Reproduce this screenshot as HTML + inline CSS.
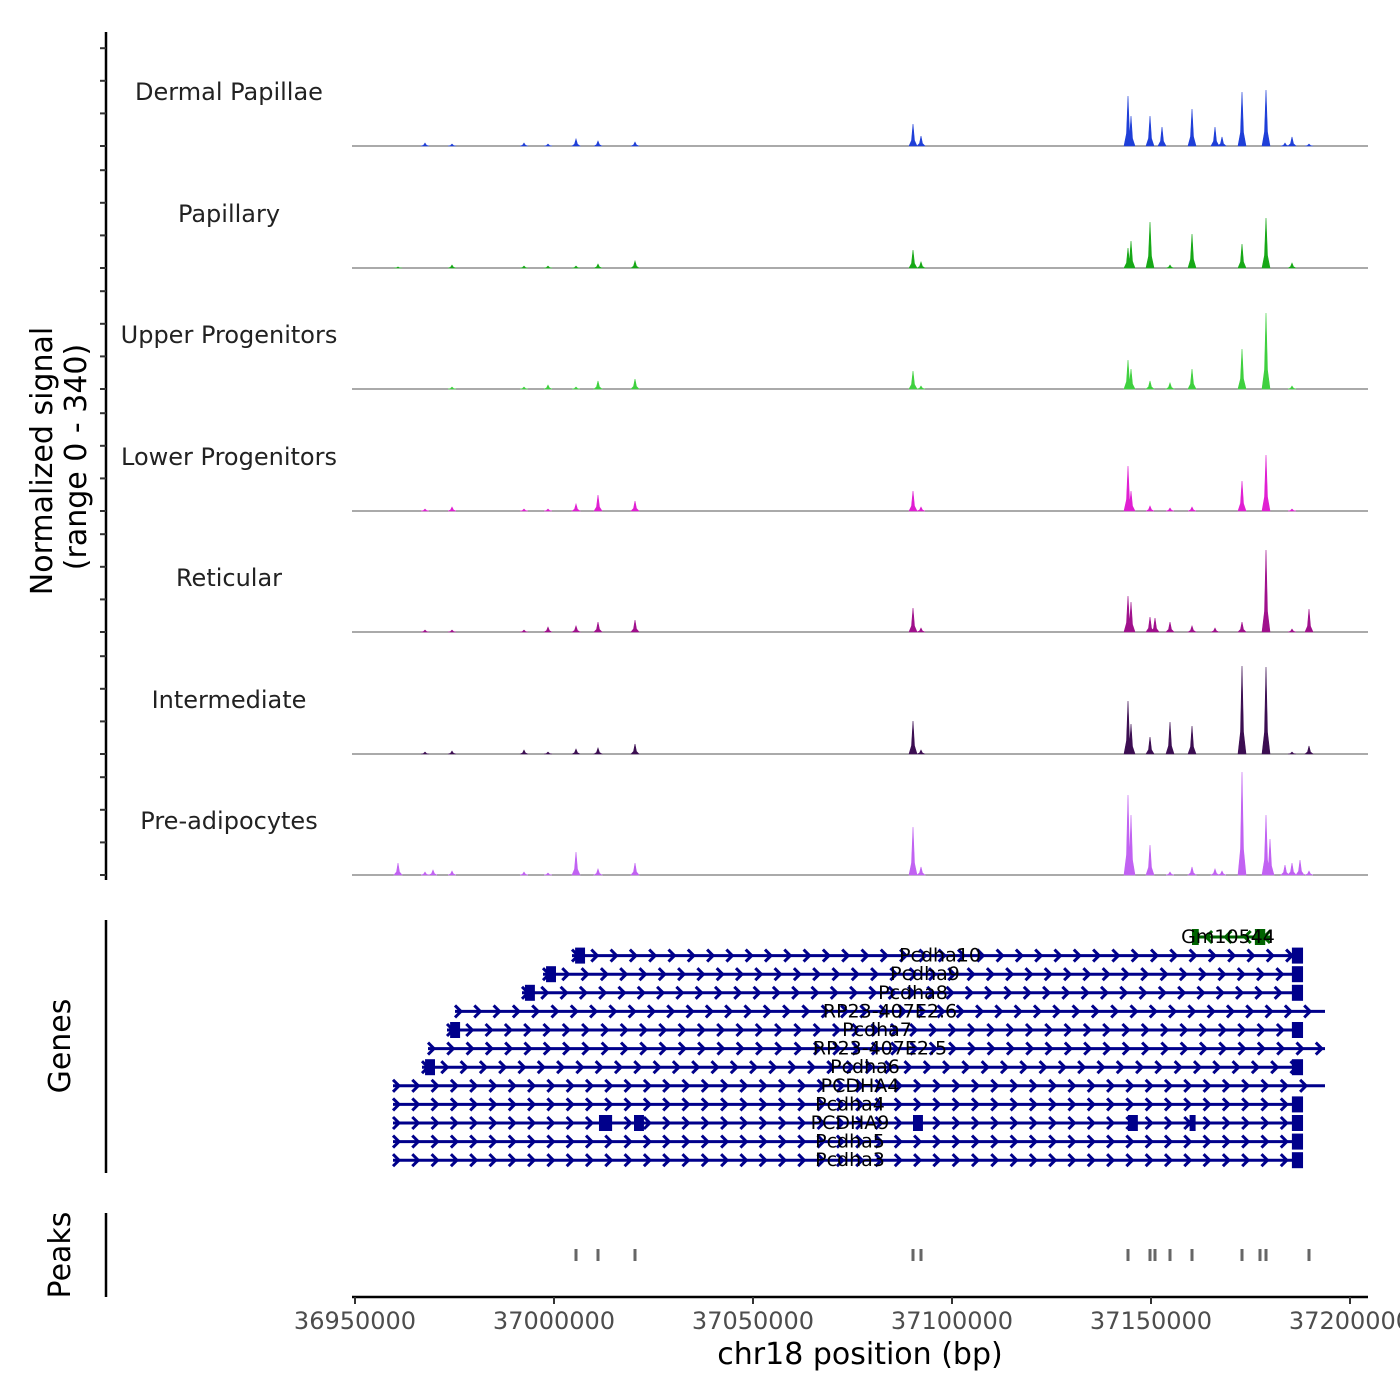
<!DOCTYPE html>
<html><head><meta charset="utf-8"><style>
body{margin:0;background:#fff}
svg{display:block;font-family:"DejaVu Sans","Liberation Sans",sans-serif}
</style></head><body>
<svg id="c" width="1400" height="1400" viewBox="0 0 1400 1400"></svg>
<script>
const trackNames=["Dermal Papillae","Papillary","Upper Progenitors","Lower Progenitors","Reticular","Intermediate","Pre-adipocytes"];
const trackColors=["#1f3fd8","#17a817","#3fd03f","#e01fd2","#a0108c","#3c0e52","#c162f2"];
const peakPos=[36960804,36967588,36969598,36974372,36992462,36998492,37005528,37011055,37020352,37090201,37092211,37144221,37144975,37149749,37151005,37152764,37154774,37160302,37166080,37167839,37172864,37178894,37179899,37183668,37185427,37187437,37189698];
const sigDermal=[0,9,0,6,9,6,21,15,12,66,30,150,90,90,0,57,0,111,57,27,162,168,0,9,27,0,6];
const sigPapillary=[3,0,0,9,6,6,6,12,21,54,18,60,81,138,0,0,9,102,0,0,72,150,0,0,15,0,0];
const sigUpper=[0,0,0,6,6,12,6,24,30,54,9,87,60,24,0,0,18,60,0,0,120,228,0,0,9,0,0];
const sigLower=[0,6,0,12,6,6,21,48,30,60,12,135,60,15,0,0,9,12,0,0,90,168,0,0,6,0,0];
const sigReticular=[0,6,0,6,6,15,18,30,36,72,12,108,90,45,42,0,30,18,12,0,30,246,0,0,9,0,69];
const sigIntermediate=[0,6,0,9,12,6,15,18,30,99,12,159,90,51,0,0,96,84,0,0,264,261,0,0,6,0,24];
const sigPre=[36,9,15,12,9,6,69,18,36,144,24,240,180,90,0,0,9,24,18,12,309,180,108,30,36,45,12];
const signals=[sigDermal,sigPapillary,sigUpper,sigLower,sigReticular,sigIntermediate,sigPre];
const peakCalls=[37005528,37011055,37020352,37090201,37092211,37144221,37149749,37151005,37154774,37160302,37172864,37177387,37178894,37189698];
const xTicks=[36950000,37000000,37050000,37100000,37150000,37200000];
const geneNames=["Gm10544","Pcdha10","Pcdha9","Pcdha8","RP23-407E2.6","Pcdha7","RP23-407E2.5","Pcdha6","PCDHA4","Pcdha4","PCDHA9","Pcdha5","Pcdha3"];
const geneStart=[37161055,37004523,36997236,36991960,36975126,36973116,36968342,36966834,36959548,36959548,36959548,36959548,36959548];
const geneEnd=[37179899,37186683,37186683,37186683,37193719,37186683,37193719,37186683,37193719,37186683,37186683,37186683,37186683];
const geneStrand=["-","+","+","+","+","+","+","+","+","+","+","+","+"];
const geneLabelPos=[37169347,37096985,37093216,37090201,37084422,37081156,37081910,37078141,37076884,37074372,37074372,37074372,37074372];
const geneExons=[[[37160300,37162000],[37176100,37178700]],[[37005300,37007800],[37185400,37188200]],[[36998000,37000500],[37185400,37188200]],[[36992700,36995200],[37185400,37188200]],[],[[36973900,36976400],[37185400,37188200]],[],[[36967600,36970100],[37185400,37188200]],[],[[37185400,37188200]],[[37011300,37014600],[37020100,37022600],[37090200,37092700],[37144200,37146700],[37159700,37161100],[37185400,37188200]],[[37185400,37188200]],[[37185400,37188200]]];

const NS="http://www.w3.org/2000/svg";
const svg=document.getElementById('c');
function mk(t,a,p){const e=document.createElementNS(NS,t);for(const k in a)e.setAttribute(k,a[k]);(p||svg).appendChild(e);return e;}
const X0=355,K=0.00398;
const x=bp=>X0+(bp-36950000)*K;
const baselines=[146,268,389,511,632,754,875];
const TH=116,VMAX=348;
const y=(v,i)=>baselines[i]-v/VMAX*TH;

let ax=mk('line',{x1:106,y1:32,x2:106,y2:880,stroke:'#000','stroke-width':2.5});

for(let i=0;i<7;i++){for(let k=0;k<4;k++){const yy=baselines[i]-k*32.6;
 const t=mk('line',{x1:100,x2:106,y1:yy,y2:yy,stroke:'#333','stroke-width':2});
 }}
let t1=mk('text',{x:0,y:0,'font-size':30,'text-anchor':'middle',transform:'translate(52,461) rotate(-90)',fill:'#000'});t1.textContent='Normalized signal';

let t2=mk('text',{x:0,y:0,'font-size':30,'text-anchor':'middle',transform:'translate(86,457) rotate(-90)',fill:'#000'});t2.textContent='(range 0 - 340)';


for(let i=0;i<7;i++){
 const g=mk('g',{});
 const lb=mk('text',{x:229,y:baselines[i]-46,'font-size':24,'text-anchor':'middle',fill:'#222'},g);lb.textContent=trackNames[i];
 
 const bl=mk('line',{x1:352,x2:1368,y1:baselines[i],y2:baselines[i],stroke:'#555','stroke-width':1},g);
 
 let d='';
 peakPos.forEach((p,j)=>{const v=signals[i][j];if(!v)return;const px=x(p),top=y(v,i),b=baselines[i];
  d+=`M${px-4},${b}L${px-1.5},${(b+top)/2+ (b-top)*0.25}L${px},${top}L${px+1.5},${(b+top)/2+(b-top)*0.25}L${px+4},${b}Z`;});
 const pa=mk('path',{d:d,fill:trackColors[i],stroke:trackColors[i],'stroke-width':0.6},g);
 
}

let ga=mk('line',{x1:106,y1:920,x2:106,y2:1173,stroke:'#000','stroke-width':2.5});

let gt=mk('text',{x:0,y:0,'font-size':30,'text-anchor':'middle',transform:'translate(70,1046) rotate(-90)'});gt.textContent='Genes';

geneNames.forEach((n,i)=>{
 const gy=937+i*18.6;const col=i===0?'#006400':'#00008b';
 const g=mk('g',{});
 const x1=x(geneStart[i]),x2=x(geneEnd[i]);
 mk('line',{x1:x1,x2:x2,y1:gy,y2:gy,stroke:col,'stroke-width':3},g);
 let d='';
 if(geneStrand[i]==='+'){for(let p=x1+3;p<x2-3;p+=19.3)d+=`M${p-3},${gy-6}L${p+3},${gy}L${p-3},${gy+6}`;}
 else{for(let p=x2-3;p>x1+3;p-=19.3)d+=`M${p+3},${gy-6}L${p-3},${gy}L${p+3},${gy+6}`;}
 mk('path',{d:d,fill:'none',stroke:col,'stroke-width':3},g);
 geneExons[i].forEach(e=>{const ex=x(e[0]),ew=Math.max(6,x(e[1])-ex);
  const r=mk('rect',{x:ex,y:gy-8,width:ew,height:16,fill:col},g);
  });
 const l=mk('text',{x:x(geneLabelPos[i]),y:gy+6,'font-size':19,'text-anchor':'middle',fill:'#000'},g);l.textContent=n;
 
});

let pa2=mk('line',{x1:106,y1:1213,x2:106,y2:1297,stroke:'#000','stroke-width':2.5});

let pt=mk('text',{x:0,y:0,'font-size':30,'text-anchor':'middle',transform:'translate(70,1255) rotate(-90)'});pt.textContent='Peaks';

peakCalls.forEach(p=>{const r=mk('rect',{x:x(p)-1.5,y:1249,width:3,height:12,fill:'#666'});
 });

let xa=mk('line',{x1:352,x2:1368,y1:1297,y2:1297,stroke:'#000','stroke-width':2.5});

xTicks.forEach(v=>{const px=x(v);
 const tk=mk('line',{x1:px,x2:px,y1:1297,y2:1304,stroke:'#333','stroke-width':2});
 
 const tl=mk('text',{x:px,y:1329,'font-size':24,'text-anchor':'middle',fill:'#4d4d4d'});tl.textContent=v;
 });
let xt=mk('text',{x:860,y:1364,'font-size':30,'text-anchor':'middle'});xt.textContent='chr18 position (bp)';

</script>
</body></html>
